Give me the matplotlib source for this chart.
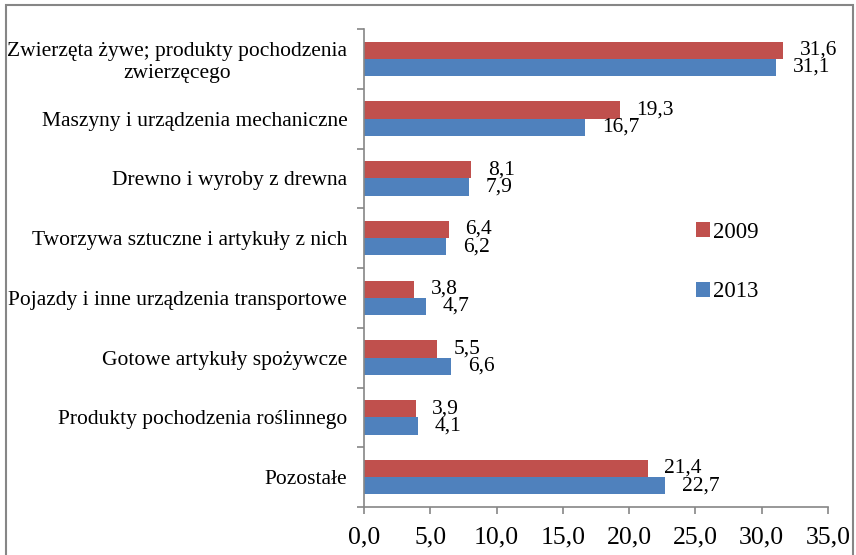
import matplotlib
matplotlib.use("Agg")
import matplotlib.pyplot as plt
from matplotlib.patches import Rectangle
import numpy as np

categories = [
    "Zwierzęta żywe; produkty pochodzenia\nzwierzęcego",
    "Maszyny i urządzenia mechaniczne",
    "Drewno i wyroby z drewna",
    "Tworzywa sztuczne i artykuły z nich",
    "Pojazdy i inne urządzenia transportowe",
    "Gotowe artykuły spożywcze",
    "Produkty pochodzenia roślinnego",
    "Pozostałe",
]
values_2009 = [31.6, 19.3, 8.1, 6.4, 3.8, 5.5, 3.9, 21.4]
values_2013 = [31.1, 16.7, 7.9, 6.2, 4.7, 6.6, 4.1, 22.7]
series_labels = ["2009", "2013"]
xticks = [0, 5, 10, 15, 20, 25, 30, 35]

RED = "#C0504D"
BLUE = "#4F81BD"
GRAY = "#868686"
FS = 15.5
FS_VAL = 15.5
FS_X = 18.5
FS_LEG = 16.5

plt.rcParams["font.family"] = ["Liberation Serif", "DejaVu Serif"]

fig = plt.figure(figsize=(8.56, 5.55), dpi=100)
ax = fig.add_axes([364 / 856, 1 - 507 / 555, (828 - 364) / 856, (507 - 29) / 555])

y = np.arange(len(categories))
h = 0.29
b1 = ax.barh(y - h / 2, values_2009, height=h, color=RED, label=series_labels[0])
b2 = ax.barh(y + h / 2, values_2013, height=h, color=BLUE, label=series_labels[1])

def fmt(v):
    return f"{v:.1f}".replace(".", ",")

for bars, vals in ((b1, values_2009), (b2, values_2013)):
    for rect, v in zip(bars, vals):
        ax.annotate(fmt(v), (v, rect.get_y() + rect.get_height() / 2),
                    xytext=(12, 0), textcoords="offset points",
                    ha="left", va="center", fontsize=FS_VAL)

ax.set_xlim(0, 35)
ax.set_ylim(len(categories) - 0.5, -0.5)
ax.set_xticks(xticks)
ax.set_xticklabels([fmt(t) for t in xticks], fontsize=FS_X)
ax.set_yticks(y)
ax.set_yticklabels(categories, fontsize=FS, multialignment="center")
ax.set_yticks(np.arange(len(categories) + 1) - 0.5, minor=True)
ax.tick_params(axis="y", which="major", length=0, pad=12)
ax.tick_params(axis="y", which="minor", length=5, width=1.2, color=GRAY, direction="out")
ax.tick_params(axis="x", which="major", length=5, width=1.2, color=GRAY, direction="out", pad=9)

for s in ("top", "right"):
    ax.spines[s].set_visible(False)
for s in ("left", "bottom"):
    ax.spines[s].set_color(GRAY)
    ax.spines[s].set_linewidth(1.2)

fig.legend(loc="center left", bbox_to_anchor=(685 / 856, 1 - 262 / 555),
           frameon=False, fontsize=FS_LEG, handlelength=0.6, handleheight=0.6,
           handletextpad=0.1, labelspacing=1.7, borderpad=0)

fig.patches.append(Rectangle((6 / 856, -0.05), (853 - 6) / 856, 1.05 - 5 / 555,
                             transform=fig.transFigure, fill=False,
                             edgecolor=GRAY, linewidth=1.5))

fig.savefig("out.png", dpi=100)
